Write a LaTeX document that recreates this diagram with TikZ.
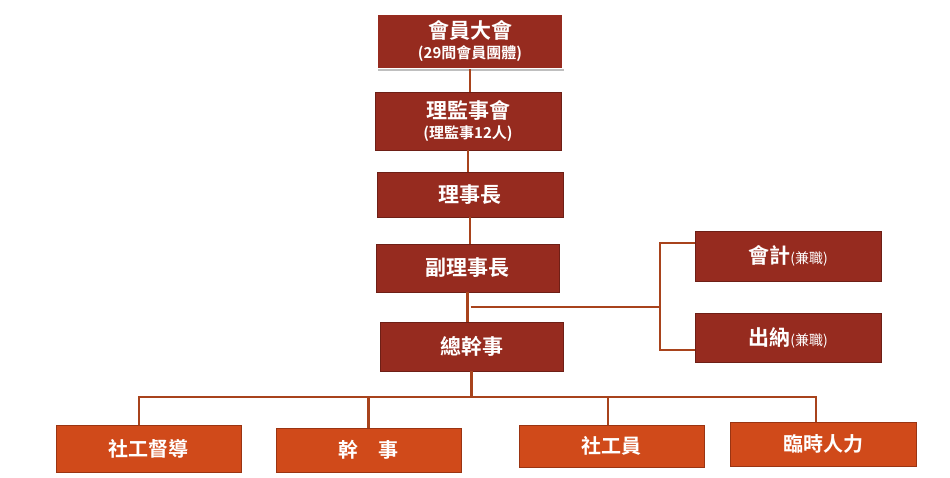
\documentclass[tikz,border=0pt]{standalone}
\usepackage{fontspec}
\newfontfamily\cjk{Noto Sans CJK TC}[BoldFont={Noto Sans CJK TC Bold}]
\usetikzlibrary{shadows}
\definecolor{brick}{HTML}{962B1F}
\definecolor{brickline}{HTML}{6E1F16}
\definecolor{rust}{HTML}{D04A1A}
\definecolor{rustline}{HTML}{9A3412}
\definecolor{linkcol}{HTML}{A8431C}
\newcommand{\subtext}[1]{{\fontsize{15}{17}\selectfont #1}}
\newcommand{\parttime}{{\mdseries\fontsize{14}{16}\selectfont (兼職)}}

\begin{document}
\begin{tikzpicture}[x=1pt, y=-1pt,
    box/.style={fill=brick, draw=brickline, line width=0.8pt, text=white, align=center,
      font=\cjk\bfseries\fontsize{21}{23}\selectfont, inner sep=0pt},
    lowbox/.style={fill=rust, draw=rustline, line width=0.8pt, text=white,
      font=\cjk\bfseries\fontsize{20}{22}\selectfont, inner sep=0pt, minimum width=185pt},
    link/.style={draw=linkcol, line width=2.2pt}]
    \fill[white] (0,0) rectangle (950,478);
    \useasboundingbox (0,0) rectangle (950,478);

    % main column
    \node[box, draw=white, line width=1.5pt, minimum width=186pt, minimum height=54pt,
      drop shadow={shadow xshift=1pt, shadow yshift=-3pt, opacity=0.5}]
      (assembly) at (470,41.5) {會員大會\\[-3pt]\subtext{(29間會員團體)}};
    \node[box, minimum width=186pt, minimum height=58pt] (board) at (468,121) {理監事會\\[-3pt]\subtext{(理監事12人)}};
    \node[box, minimum width=186pt, minimum height=45pt] (chair) at (470,194.5) {理事長};
    \node[box, minimum width=183pt, minimum height=48pt] (vice) at (467.5,268) {副理事長};
    \node[box, minimum width=183pt, minimum height=49pt] (secgen) at (471.5,346.5) {總幹事};

    % side posts
    \node[box, minimum width=186pt, minimum height=50pt] (acct) at (788,256) {會計\parttime};
    \node[box, minimum width=186pt, minimum height=49pt] (cash) at (788,337.5) {出納\parttime};

    % staff row
    \node[lowbox, minimum height=47pt] (super) at (148.5,448.5) {社工督導};
    \node[lowbox, minimum height=44pt] (cadre) at (368.5,450) {幹　事};
    \node[lowbox, minimum height=42pt] (worker) at (611.5,446) {社工員};
    \node[lowbox, minimum width=186pt, minimum height=44pt] (temp) at (823,444) {臨時人力};

    \coordinate (side) at (660,307);
    \coordinate (bus) at (470,397);

    \draw[link] (assembly.south) -- (assembly.south |- board.north);
    \draw[link] (board.south) -- (board.south |- chair.north);
    \draw[link] (chair.south) -- (chair.south |- vice.north);
    \draw[link] (vice.south) -- (vice.south |- secgen.north);
    \draw[link] ([xshift=3pt]vice.south |- side) -- (side);
    \draw[link] ([yshift=13pt]acct.west) -| (side) |- ([yshift=-12.5pt]cash.west);

    \draw[link] (secgen.south) -- (secgen.south |- bus);
    \draw[link] ([xshift=-9.5pt]super.north) |- ([xshift=-7pt]temp.north |- bus) -- ([xshift=-7pt]temp.north);
    \draw[link] (cadre.north) -- (cadre.north |- bus);
    \draw[link] ([xshift=-3.5pt]worker.north) -- ([xshift=-3.5pt]worker.north |- bus);
\end{tikzpicture}
\end{document}
